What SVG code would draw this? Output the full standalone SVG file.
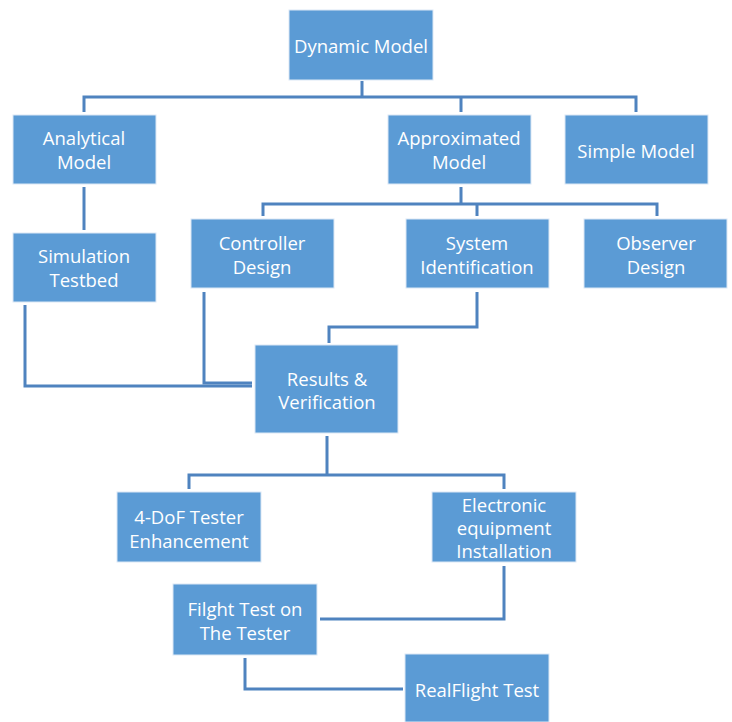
<svg xmlns="http://www.w3.org/2000/svg" width="732" height="722" viewBox="0 0 732 722">
<style>
.box{fill:#5B9BD5;stroke:#DCE8F5;stroke-width:1}
.t{fill:#fff;font-family:"Open Sans","Liberation Sans",sans-serif;font-size:18.5px;text-anchor:middle;dominant-baseline:central}
.c{fill:none;stroke:#4F83BF;stroke-width:3}
</style>
<rect width="732" height="722" fill="#fff"/>
<g id="connectors">
<path class="c" d="M362 81V97M84 112V97H636V112M461 97V112"/>
<path class="c" d="M84 187V230"/>
<path class="c" d="M461 187V204M263 216V204H657V216M477 204V216"/>
<path class="c" d="M25 305V386H252"/>
<path class="c" d="M204 292V383H252"/>
<path class="c" d="M477 292V327H329V343"/>
<path class="c" d="M327 436V475M189 489V475H504V489"/>
<path class="c" d="M504 566V619H320"/>
<path class="c" d="M245 658V689H403"/>
</g>
<g id="dynamic"><rect class="box" x="289" y="10" width="144" height="70"/><text class="t" x="361" y="45">Dynamic Model</text></g>
<g id="analytical"><rect class="box" x="13" y="115" width="143" height="69"/><text class="t" x="84" y="137">Analytical</text><text class="t" x="84" y="161">Model</text></g>
<g id="approximated"><rect class="box" x="388" y="115" width="143" height="69"/><text class="t" x="459" y="137">Approximated</text><text class="t" x="459" y="161">Model</text></g>
<g id="simple"><rect class="box" x="565" y="115" width="143" height="69"/><text class="t" x="636" y="150">Simple Model</text></g>
<g id="simulation"><rect class="box" x="13" y="233" width="143" height="69"/><text class="t" x="84" y="255">Simulation</text><text class="t" x="84" y="279">Testbed</text></g>
<g id="controller"><rect class="box" x="191" y="219" width="143" height="69"/><text class="t" x="262" y="242">Controller</text><text class="t" x="262" y="266">Design</text></g>
<g id="sysid"><rect class="box" x="406" y="219" width="143" height="69"/><text class="t" x="477" y="242">System</text><text class="t" x="477" y="266">Identification</text></g>
<g id="observer"><rect class="box" x="584" y="219" width="143" height="69"/><text class="t" x="656" y="242">Observer</text><text class="t" x="656" y="266">Design</text></g>
<g id="results"><rect class="box" x="255" y="345" width="143" height="88"/><text class="t" x="327" y="378">Results &amp;</text><text class="t" x="327" y="401">Verification</text></g>
<g id="dof"><rect class="box" x="117" y="492" width="144" height="70"/><text class="t" x="189" y="516">4-DoF Tester</text><text class="t" x="189" y="540">Enhancement</text></g>
<g id="electronic"><rect class="box" x="432" y="492" width="144" height="70"/><text class="t" x="504" y="504">Electronic</text><text class="t" x="504" y="527">equipment</text><text class="t" x="504" y="550">Installation</text></g>
<g id="flight"><rect class="box" x="173" y="584" width="144" height="71"/><text class="t" x="245" y="608">Filght Test on</text><text class="t" x="245" y="632">The Tester</text></g>
<g id="realflight"><rect class="box" x="405" y="654" width="144" height="68"/><text class="t" x="477" y="689">RealFlight Test</text></g>
</svg>
